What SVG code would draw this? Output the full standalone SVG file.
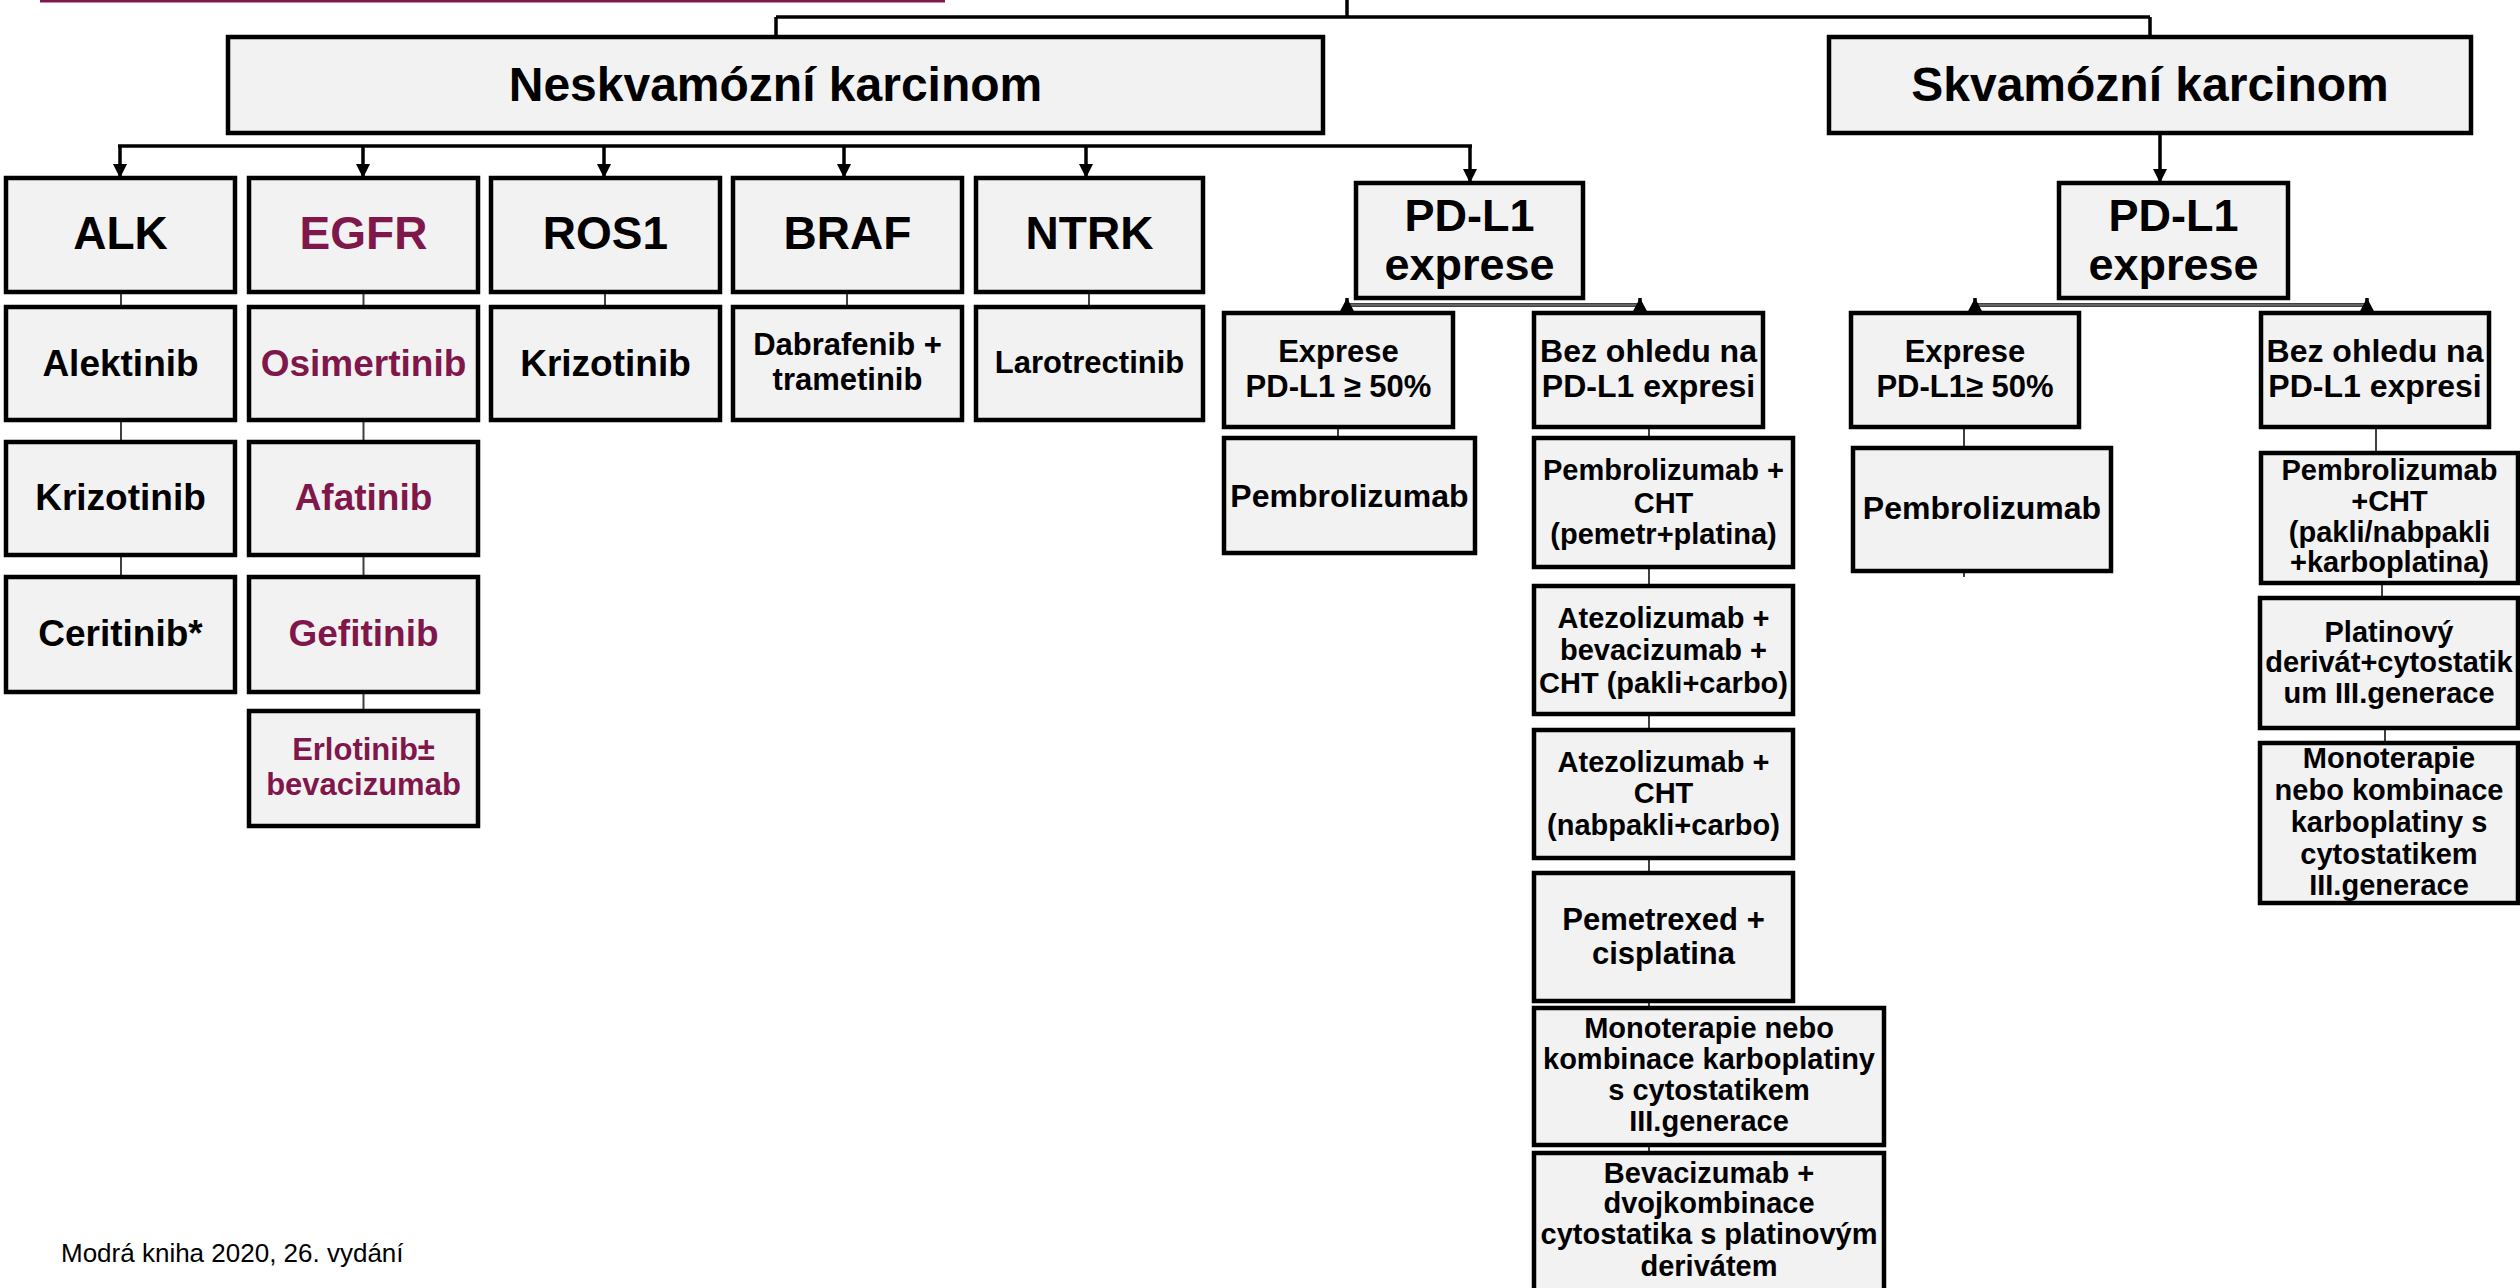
<svg xmlns="http://www.w3.org/2000/svg" width="2520" height="1288" viewBox="0 0 2520 1288">
<style>
.box{fill:#F2F2F2;stroke:#000;stroke-width:4.5}
.t{font-family:"Liberation Sans",Arial,sans-serif;font-weight:bold;text-anchor:middle;fill:#000}
.m{fill:#80174B}
.f48{font-size:48px}.f46{font-size:46px}.f45{font-size:45px}.f37{font-size:37px}.f32{font-size:32px}.f31{font-size:31px}.f29{font-size:29px}
.thin{stroke:#404040;stroke-width:2;fill:none}
.thick{stroke:#000;stroke-width:3.5;fill:none}
.dbl{stroke:#C8C8C8;stroke-width:1.2;fill:none}
.foot{font-family:"Liberation Sans",Arial,sans-serif;font-size:26px;fill:#000}
</style>
<defs>
<marker id="arr" viewBox="0 0 14 14" refX="14" refY="7" markerWidth="14" markerHeight="14" markerUnits="userSpaceOnUse" orient="auto">
<path d="M0,0 L14,7 L0,14 z" fill="#000"/>
</marker>
<marker id="arrUp" viewBox="0 0 15 16" refX="15" refY="8" markerWidth="15" markerHeight="16" markerUnits="userSpaceOnUse" orient="auto">
<path d="M0,0 L15,8 L0,16 z" fill="#000"/>
</marker>
</defs>
<rect x="40" y="0" width="905" height="2.5" fill="#80174B"/>
<g id="connectors">
<path class="thick" d="M1347,0 V17 M776,17 H2150 M776,17 V37 M2150,17 V37"/>
<path class="thick" d="M118,146 H1472"/>
<path class="thick" d="M120,146 V178" marker-end="url(#arr)"/>
<path class="thick" d="M363,146 V178" marker-end="url(#arr)"/>
<path class="thick" d="M604,146 V178" marker-end="url(#arr)"/>
<path class="thick" d="M844,146 V178" marker-end="url(#arr)"/>
<path class="thick" d="M1086,146 V178" marker-end="url(#arr)"/>
<path class="thick" d="M1470,146 V183" marker-end="url(#arr)"/>
<path class="thick" d="M2160,135 V183" marker-end="url(#arr)"/>
<path class="thin" d="M121,292 V307 M121,420 V442 M121,555 V577 M363.5,292 V307 M363.5,420 V442 M363.5,555 V577 M363.5,692 V711 M605,292 V307 M847,292 V307 M1089,292 V307"/>
<path class="thick" d="M1347,305 H1640"/>
<path class="dbl" d="M1350,305 H1637"/>
<path class="thick" d="M1347,313 V298" marker-end="url(#arrUp)"/>
<path class="thick" d="M1640,313 V298" marker-end="url(#arrUp)"/>
<path class="thick" d="M1975,305 H2367"/>
<path class="dbl" d="M1978,305 H2364"/>
<path class="thick" d="M1975,313 V298" marker-end="url(#arrUp)"/>
<path class="thick" d="M2367,313 V298" marker-end="url(#arrUp)"/>
<path class="thin" d="M1338,427 V438 M1649,427 V438 M1649,567 V586 M1649,714 V730 M1649,858 V873 M1649,1001 V1008 M1649,1145 V1153"/>
<path class="thin" d="M1964,427 V448 M1964,571 V577 M2376,427 V453 M2382,583 V598 M2385,728 V743"/>
</g>
<g id="n-neskvamozni"><rect class="box" x="228" y="37" width="1095" height="96"/><text class="t f48" x="775.5" y="101">Neskvamózní karcinom</text></g>
<g id="n-skvamozni"><rect class="box" x="1829" y="37" width="642" height="96"/><text class="t f48" x="2150" y="101">Skvamózní karcinom</text></g>
<g id="n-alk"><rect class="box" x="6" y="178" width="229" height="114"/><text class="t f46" x="120.5" y="249">ALK</text></g>
<g id="n-egfr"><rect class="box" x="249" y="178" width="229" height="114"/><text class="t f46 m" x="363.5" y="249">EGFR</text></g>
<g id="n-ros1"><rect class="box" x="491" y="178" width="229" height="114"/><text class="t f46" x="605.5" y="249">ROS1</text></g>
<g id="n-braf"><rect class="box" x="733" y="178" width="229" height="114"/><text class="t f46" x="847.5" y="249">BRAF</text></g>
<g id="n-ntrk"><rect class="box" x="976" y="178" width="227" height="114"/><text class="t f46" x="1089.5" y="249">NTRK</text></g>
<g id="n-alektinib"><rect class="box" x="6" y="307" width="229" height="113"/><text class="t f37" x="120.5" y="376">Alektinib</text></g>
<g id="n-osimertinib"><rect class="box" x="249" y="307" width="229" height="113"/><text class="t f37 m" x="363.5" y="376">Osimertinib</text></g>
<g id="n-krizotinib-ros1"><rect class="box" x="491" y="307" width="229" height="113"/><text class="t f37" x="605.5" y="376">Krizotinib</text></g>
<g id="n-dabrafenib"><rect class="box" x="733" y="307" width="229" height="113"/><text class="t f31" x="847.5" y="355">Dabrafenib +</text><text class="t f31" x="847.5" y="390">trametinib</text></g>
<g id="n-larotrectinib"><rect class="box" x="976" y="307" width="227" height="113"/><text class="t f31" x="1089.5" y="373">Larotrectinib</text></g>
<g id="n-krizotinib-alk"><rect class="box" x="6" y="442" width="229" height="113"/><text class="t f37" x="120.5" y="510">Krizotinib</text></g>
<g id="n-afatinib"><rect class="box" x="249" y="442" width="229" height="113"/><text class="t f37 m" x="363.5" y="510">Afatinib</text></g>
<g id="n-ceritinib"><rect class="box" x="6" y="577" width="229" height="115"/><text class="t f37" x="120.5" y="646">Ceritinib*</text></g>
<g id="n-gefitinib"><rect class="box" x="249" y="577" width="229" height="115"/><text class="t f37 m" x="363.5" y="646">Gefitinib</text></g>
<g id="n-erlotinib"><rect class="box" x="249" y="711" width="229" height="115"/><text class="t f31 m" x="363.5" y="760">Erlotinib±</text><text class="t f31 m" x="363.5" y="795">bevacizumab</text></g>
<g id="n-pdl1-l"><rect class="box" x="1356" y="183" width="227" height="115"/><text class="t f45" x="1469.5" y="231">PD-L1</text><text class="t f45" x="1469.5" y="280">exprese</text></g>
<g id="n-pdl1-r"><rect class="box" x="2059" y="183" width="229" height="115"/><text class="t f45" x="2173.5" y="231">PD-L1</text><text class="t f45" x="2173.5" y="280">exprese</text></g>
<g id="n-expres-l"><rect class="box" x="1224" y="313" width="229" height="114"/><text class="t f31" x="1338.5" y="362">Exprese</text><text class="t f31" x="1338.5" y="397">PD-L1 ≥ 50%</text></g>
<g id="n-bez-l"><rect class="box" x="1534" y="313" width="229" height="114"/><text class="t f32" x="1648.5" y="362">Bez ohledu na</text><text class="t f32" x="1648.5" y="397">PD-L1 expresi</text></g>
<g id="n-pembro-l"><rect class="box" x="1224" y="438" width="251" height="115"/><text class="t f32" x="1349.5" y="507">Pembrolizumab</text></g>
<g id="n-pembro-cht-l"><rect class="box" x="1534" y="438" width="259" height="129"/><text class="t f29" x="1663.5" y="480">Pembrolizumab +</text><text class="t f29" x="1663.5" y="512.5">CHT</text><text class="t f29" x="1663.5" y="543.5">(pemetr+platina)</text></g>
<g id="n-atezo1"><rect class="box" x="1534" y="586" width="259" height="128"/><text class="t f29" x="1663.5" y="627.5">Atezolizumab +</text><text class="t f29" x="1663.5" y="660">bevacizumab +</text><text class="t f29" x="1663.5" y="692.5">CHT (pakli+carbo)</text></g>
<g id="n-atezo2"><rect class="box" x="1534" y="730" width="259" height="128"/><text class="t f29" x="1663.5" y="772">Atezolizumab +</text><text class="t f29" x="1663.5" y="803">CHT</text><text class="t f29" x="1663.5" y="835">(nabpakli+carbo)</text></g>
<g id="n-pemetrexed"><rect class="box" x="1534" y="873" width="259" height="128"/><text class="t f31" x="1663.5" y="930">Pemetrexed +</text><text class="t f31" x="1663.5" y="964">cisplatina</text></g>
<g id="n-mono-l"><rect class="box" x="1534" y="1008" width="350" height="137"/><text class="t f29" x="1709" y="1038">Monoterapie nebo</text><text class="t f29" x="1709" y="1069">kombinace karboplatiny</text><text class="t f29" x="1709" y="1100">s cytostatikem</text><text class="t f29" x="1709" y="1131">III.generace</text></g>
<g id="n-beva"><rect class="box" x="1534" y="1153" width="350" height="150"/><text class="t f29" x="1709" y="1183">Bevacizumab +</text><text class="t f29" x="1709" y="1213">dvojkombinace</text><text class="t f29" x="1709" y="1244">cytostatika s platinovým</text><text class="t f29" x="1709" y="1276">derivátem</text></g>
<g id="n-expres-r"><rect class="box" x="1851" y="313" width="228" height="114"/><text class="t f31" x="1965" y="362">Exprese</text><text class="t f31" x="1965" y="397">PD-L1≥ 50%</text></g>
<g id="n-bez-r"><rect class="box" x="2261" y="313" width="228" height="114"/><text class="t f32" x="2375" y="362">Bez ohledu na</text><text class="t f32" x="2375" y="397">PD-L1 expresi</text></g>
<g id="n-pembro-r"><rect class="box" x="1853" y="448" width="258" height="123"/><text class="t f32" x="1982" y="519">Pembrolizumab</text></g>
<g id="n-pembro-cht-r"><rect class="box" x="2261" y="453" width="257" height="130"/><text class="t f29" x="2389.5" y="480">Pembrolizumab</text><text class="t f29" x="2389.5" y="510.5">+CHT</text><text class="t f29" x="2389.5" y="541.5">(pakli/nabpakli</text><text class="t f29" x="2389.5" y="572">+karboplatina)</text></g>
<g id="n-platinovy"><rect class="box" x="2260" y="598" width="258" height="130"/><text class="t f29" x="2389" y="642">Platinový</text><text class="t f29" x="2389" y="672">derivát+cytostatik</text><text class="t f29" x="2389" y="703">um III.generace</text></g>
<g id="n-mono-r"><rect class="box" x="2260" y="743" width="258" height="160"/><text class="t f29" x="2389" y="768">Monoterapie</text><text class="t f29" x="2389" y="800">nebo kombinace</text><text class="t f29" x="2389" y="832">karboplatiny s</text><text class="t f29" x="2389" y="864">cytostatikem</text><text class="t f29" x="2389" y="895">III.generace</text></g>
<text class="foot" x="61" y="1262">Modrá kniha 2020, 26. vydání</text>
</svg>
